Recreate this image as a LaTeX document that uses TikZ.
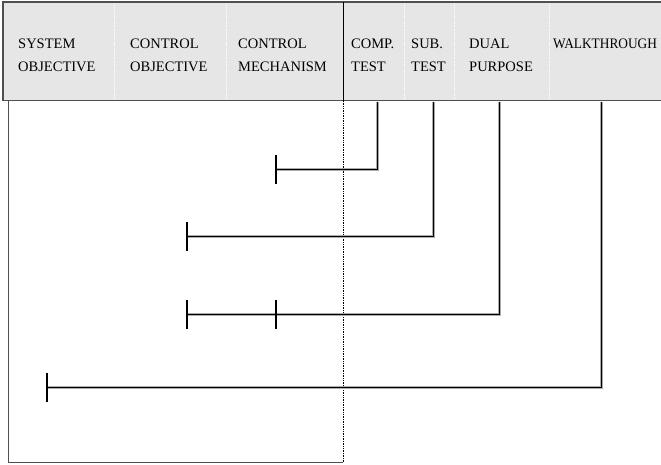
\documentclass[tikz,border=0pt]{standalone}
\usepackage{graphicx}
\usepackage{fontspec}
\setmainfont{Liberation Serif}
\begin{document}
\begin{tikzpicture}[x=1pt,y=-1pt,
  hdr/.style={anchor=north west,inner sep=0pt,align=left,font=\fontsize{14.5}{22.7}\selectfont},
  sep/.style={white,densely dotted,line width=0.8pt},
  link/.style={draw=gray!65,line width=1pt,double=black,double distance=1pt},
  tbar/.style={black,line width=2pt}]
\definecolor{hdrfill}{HTML}{E6E6E6}
\definecolor{hdrline}{HTML}{505050}
\useasboundingbox (0,0) rectangle (661,464);
\fill[white] (0,0) rectangle (661,464);
% header band
\fill[hdrfill] (3,2) rectangle (661,100.5);
\draw[hdrline,line width=1.4pt] (661,2) -- (3,2) -- (3,100.5) -- (661,100.5);
\draw[sep] (114,3) -- (114,100);
\draw[sep] (226,3) -- (226,100);
\draw[sep] (404,3) -- (404,100);
\draw[sep] (454,3) -- (454,100);
\draw[sep] (549,3) -- (549,100);
\draw[black,line width=0.8pt] (343,2) -- (343,101);
% lower frame
\draw[hdrline,line width=0.8pt] (8.5,101) -- (8.5,462.5) -- (343,462.5);
\draw[black,densely dotted,line width=0.7pt] (343,101) -- (343,463);
% header texts
\node[hdr] (sysobj) at (18,38.8) {SYSTEM\\OBJECTIVE};
\node[hdr] (ctlobj) at (130,38.8) {CONTROL\\OBJECTIVE};
\node[hdr] (ctlmech) at (238,38.8) {CONTROL\\MECHANISM};
\node[hdr] (comp) at (351,38.8) {COMP.\\TEST};
\node[hdr] (sub) at (411,38.8) {SUB.\\TEST};
\node[hdr] (dual) at (469,38.8) {DUAL\\PURPOSE};
\node[hdr] (walk) at (553,38.8) {\scalebox{0.92}[1]{WALKTHROUGH}};
% connector points
\coordinate (c1top) at (377,101.5);
\coordinate (c1end) at (276,169);
\coordinate (c2top) at (433,101.5);
\coordinate (c2end) at (187,236);
\coordinate (c3top) at (499,101.5);
\coordinate (c3end) at (187,314);
\coordinate (c3mid) at (276,314);
\coordinate (c4top) at (601,101.5);
\coordinate (c4end) at (47,387);
% connectors
\draw[link] (c1top) |- (c1end);
\draw[link] (c2top) |- (c2end);
\draw[link] (c3top) |- (c3end);
\draw[link] (c4top) |- (c4end);
% end bars
\draw[tbar] (c1end) ++(0,-14.5) -- ++(0,29);
\draw[tbar] (c2end) ++(0,-14.5) -- ++(0,29);
\draw[tbar] (c3end) ++(0,-14.5) -- ++(0,29);
\draw[tbar] (c3mid) ++(0,-14.5) -- ++(0,29);
\draw[tbar] (c4end) ++(0,-14.5) -- ++(0,29);
\end{tikzpicture}
\end{document}
